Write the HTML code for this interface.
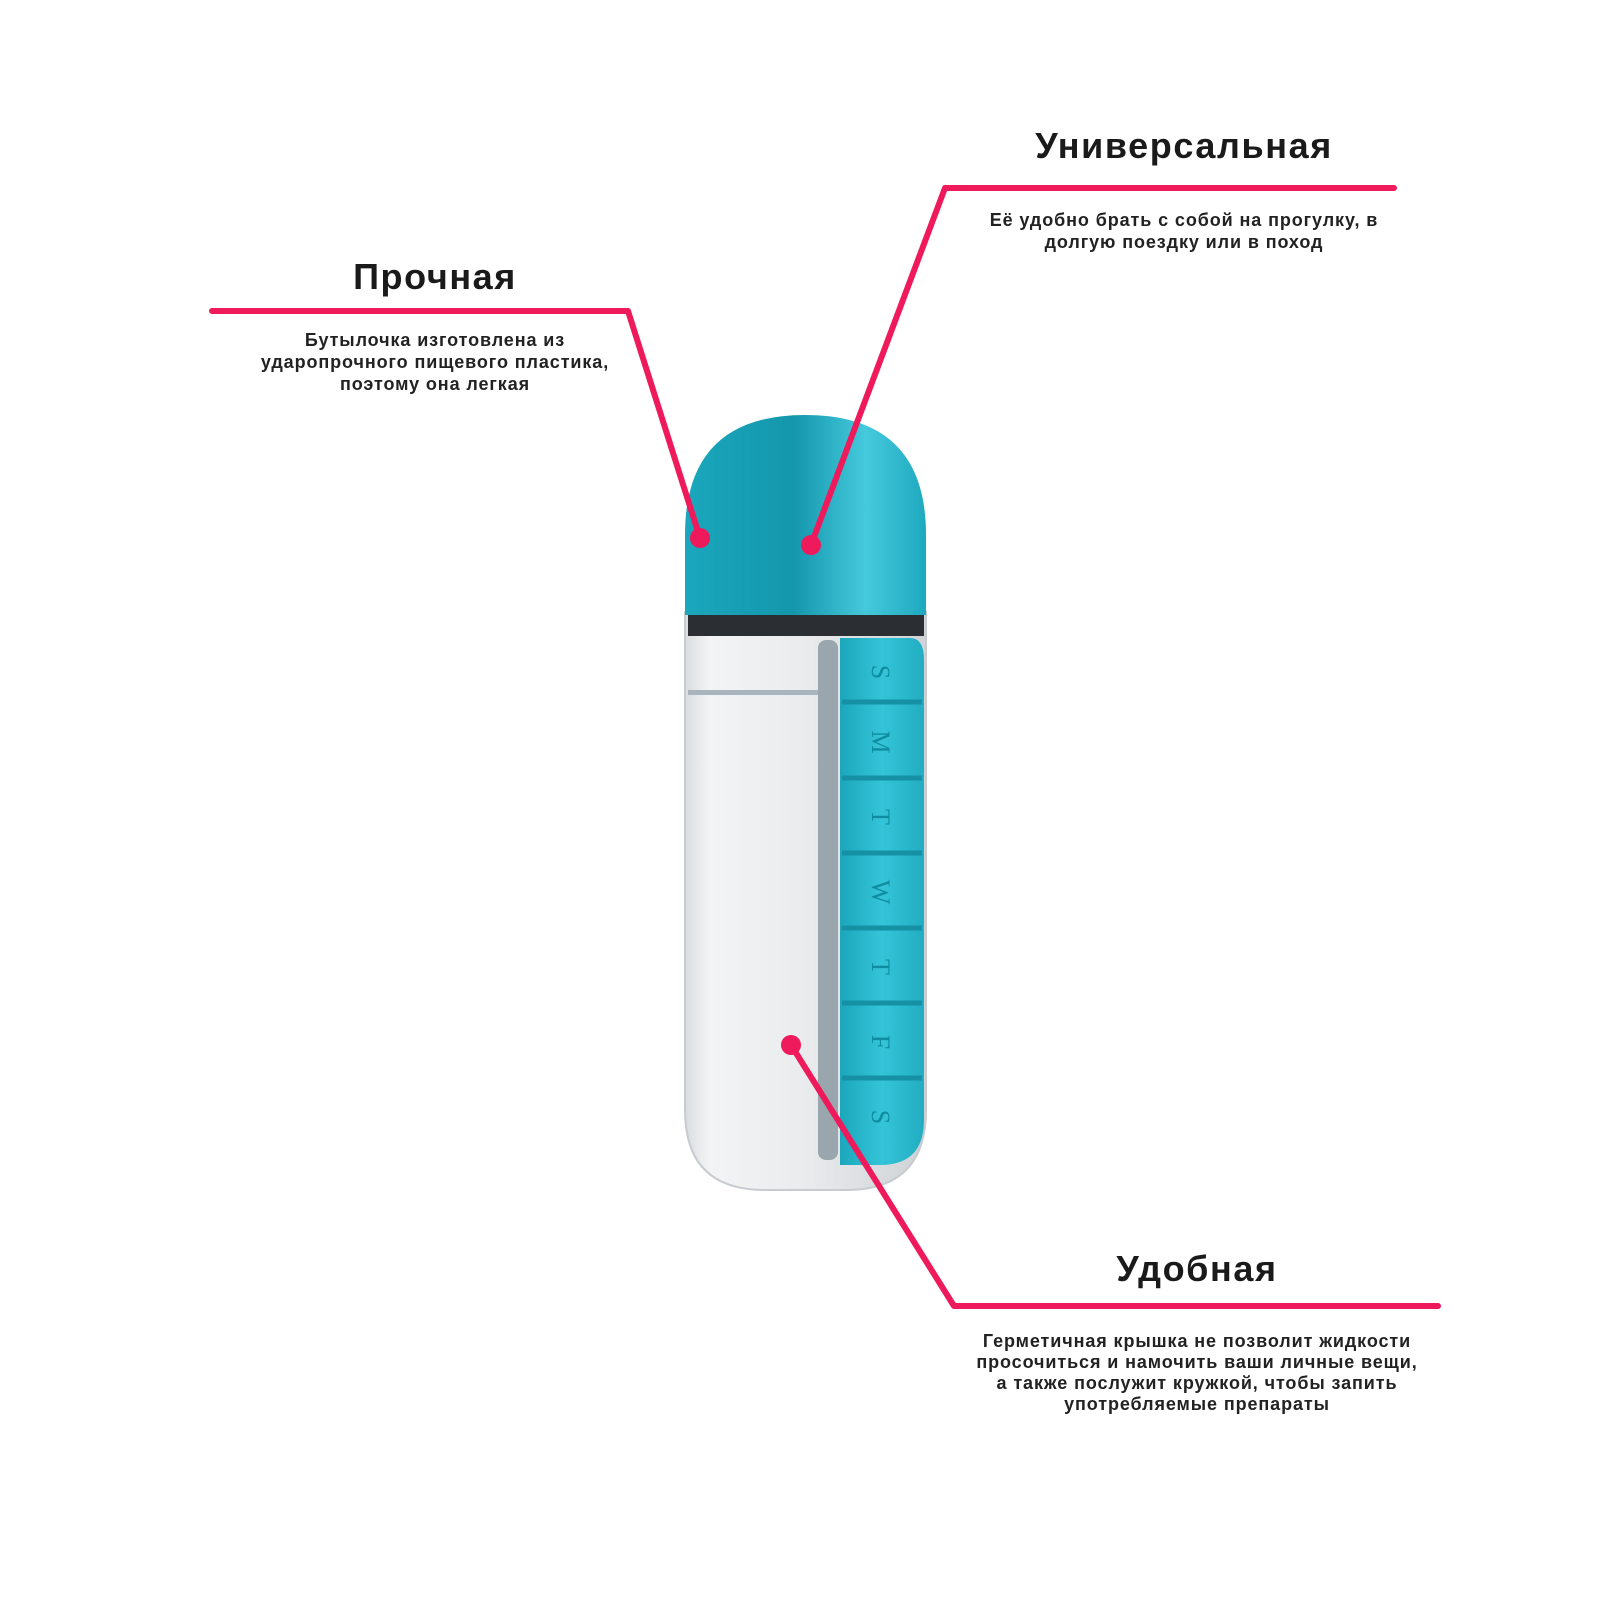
<!DOCTYPE html>
<html><head><meta charset="utf-8"><style>
html,body{margin:0;padding:0;background:#fff;width:1600px;height:1600px;overflow:hidden}
svg{display:block}
.t{font-family:"Liberation Sans","DejaVu Sans",sans-serif;font-weight:bold;fill:#1a1a1a;text-anchor:middle}
.h{font-size:36px;letter-spacing:1.6px}
.d{font-size:18px;font-weight:bold;fill:#222;letter-spacing:0.9px}
</style></head><body>
<svg width="1600" height="1600" viewBox="0 0 1600 1600" xmlns="http://www.w3.org/2000/svg">
<defs>
<linearGradient id="cap" x1="0" x2="1" y1="0" y2="0">
<stop offset="0" stop-color="#1aa7bc"/><stop offset="0.45" stop-color="#1497ad"/><stop offset="0.75" stop-color="#45c9dc"/><stop offset="1" stop-color="#1ea9bf"/></linearGradient>
<linearGradient id="body" x1="0" x2="1" y1="0" y2="0">
<stop offset="0" stop-color="#d9dcdf"/><stop offset="0.1" stop-color="#f3f4f5"/><stop offset="0.5" stop-color="#e9ebed"/><stop offset="1" stop-color="#cfd3d6"/></linearGradient>
<linearGradient id="pill" x1="0" x2="1" y1="0" y2="0">
<stop offset="0" stop-color="#1ba6bb"/><stop offset="0.5" stop-color="#34c4d8"/><stop offset="1" stop-color="#22adc2"/></linearGradient>
</defs>
<path d="M685 612 H926 V1110 Q926 1190 846 1190 H765 Q685 1190 685 1110 Z" fill="url(#body)" stroke="#c8ccd0" stroke-width="2"/>
<rect x="688" y="614" width="236" height="22" fill="#2b2f33"/>
<rect x="688" y="690" width="130" height="5" fill="#a9b4bc"/>
<rect x="818" y="640" width="20" height="520" rx="8" fill="#9aa6ad"/>
<path d="M840 638 H910 Q924 638 924 660 V1120 Q924 1165 880 1165 H840 Z" fill="url(#pill)"/>
<g stroke="#1590a5" stroke-width="5" fill="none">
<line x1="842" y1="702" x2="922" y2="702"/><line x1="842" y1="778" x2="922" y2="778"/>
<line x1="842" y1="853" x2="922" y2="853"/><line x1="842" y1="928" x2="922" y2="928"/>
<line x1="842" y1="1003" x2="922" y2="1003"/><line x1="842" y1="1078" x2="922" y2="1078"/>
</g>
<g font-family="Liberation Serif,serif" font-size="26" fill="#0f8ca0" text-anchor="middle">
<text x="880" y="680" transform="rotate(90 880 672)">S</text>
<text x="880" y="750" transform="rotate(90 880 742)">M</text>
<text x="880" y="825" transform="rotate(90 880 817)">T</text>
<text x="880" y="900" transform="rotate(90 880 892)">W</text>
<text x="880" y="975" transform="rotate(90 880 967)">T</text>
<text x="880" y="1050" transform="rotate(90 880 1042)">F</text>
<text x="880" y="1125" transform="rotate(90 880 1117)">S</text>
</g>
<path d="M685 615 V535 Q685 415 805 415 Q926 415 926 535 V615 Z" fill="url(#cap)"/>
<g stroke="#ee1a5b" stroke-width="6" fill="none" stroke-linecap="round" stroke-linejoin="round">
<polyline points="212,311 628,311 700,538"/>
<polyline points="1394,188 945,188 811,545"/>
<polyline points="791,1045 954,1306 1438,1306"/>
</g>
<g fill="#ee1a5b"><circle cx="700" cy="538" r="10"/><circle cx="811" cy="545" r="10"/><circle cx="791" cy="1045" r="10"/></g>
<text class="t h" x="435" y="289">Прочная</text>
<text class="t d" x="435" y="346">Бутылочка изготовлена из</text>
<text class="t d" x="435" y="368">ударопрочного пищевого пластика,</text>
<text class="t d" x="435" y="390">поэтому она легкая</text>
<text class="t h" x="1184" y="158">Универсальная</text>
<text class="t d" x="1184" y="226">Её удобно брать с собой на прогулку, в</text>
<text class="t d" x="1184" y="248">долгую поездку или в поход</text>
<text class="t h" x="1197" y="1281">Удобная</text>
<text class="t d" x="1197" y="1347">Герметичная крышка не позволит жидкости</text>
<text class="t d" x="1197" y="1368">просочиться и намочить ваши личные вещи,</text>
<text class="t d" x="1197" y="1389">а также послужит кружкой, чтобы запить</text>
<text class="t d" x="1197" y="1410">употребляемые препараты</text>
</svg>
</body></html>
